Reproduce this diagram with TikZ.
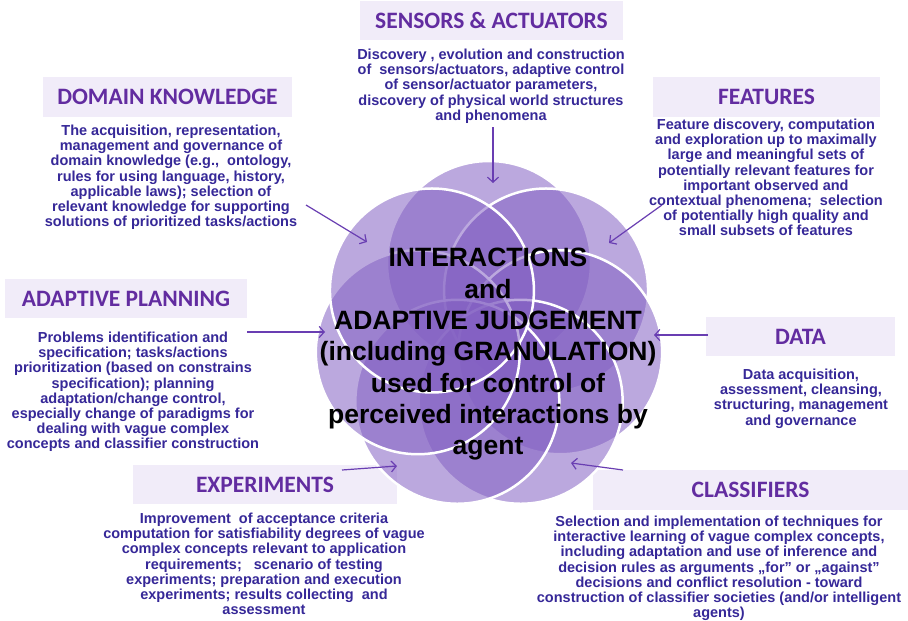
\documentclass[tikz,border=0pt]{standalone}
\usepackage{fontspec}
\setmainfont{Liberation Sans}
\newfontfamily\headfont{Carlito}
\usetikzlibrary{arrows.meta,calc}
\definecolor{petal}{RGB}{132,97,195}
\definecolor{boxc}{RGB}{241,236,249}
\definecolor{headc}{RGB}{98,44,160}
\definecolor{bodyc}{RGB}{54,40,152}
\definecolor{arrowc}{RGB}{105,62,178}
% let lines sit at the given baseline distance even when glyphs crowd
\newcommand\tightlines{\lineskiplimit=-20pt\lineskip=0pt\relax}
\begin{document}
\begin{tikzpicture}[x=1pt,y=-1pt,
  headbox/.style={fill=boxc, inner sep=0pt, text=headc,
    font=\headfont\bfseries\fontsize{23.5}{26}\selectfont},
  body/.style={align=center, inner sep=0pt, anchor=north, text=bodyc,
    font={\bfseries\fontsize{14.5}{15.1}\selectfont\tightlines}},
  petalc/.style={fill=petal, fill opacity=0.55, draw=white, line width=2.5pt},
  link/.style={draw=arrowc, line width=1.2pt, -{Straight Barb[length=5pt,width=11pt]}},
  core/.style={align=center, inner sep=0pt, text=black,
    font={\bfseries\fontsize{26.5}{31.3}\selectfont\tightlines}}
]
\fill[white] (0,0) rectangle (908,621);
\useasboundingbox (0,0) rectangle (908,621);

% heading boxes
\node[headbox, minimum width=263pt, minimum height=39pt] (hsens) at (491.5,20.5) {SENSORS \& ACTUATORS};
\node[headbox, minimum width=249pt, minimum height=40pt] (hdom) at (167.5,97) {DOMAIN KNOWLEDGE};
\node[headbox, minimum width=242pt, minimum height=39pt] (hplan) at (126,298.5) {ADAPTIVE PLANNING};
\node[headbox, minimum width=227pt, minimum height=40pt] (hfeat) at (766.5,97) {FEATURES};
\node[headbox, minimum width=189pt, minimum height=39pt] (hdata) at (800.5,336.5) {DATA};
\node[headbox, minimum width=264pt, minimum height=39pt] (hexp) at (265,484.5) {EXPERIMENTS};
\node[headbox, minimum width=315pt, minimum height=40pt] (hcls) at (750.5,490) {CLASSIFIERS};

% the flower of seven overlapping petals
\coordinate (hub) at (489,336);
\foreach \k in {0,...,6}
  \path[petalc] ($(hub)+({\k*360/7-90}:73)$) circle[radius=102pt];

% central statement
\node[core] (centre) at (488,354.3) {INTERACTIONS\\and\\ADAPTIVE JUDGEMENT\\(including GRANULATION)\\used for control of\\perceived interactions by\\agent};

% descriptions
\node[body] (tsens) at (491,49) {Discovery , evolution and construction\\of\ \ sensors/actuators, adaptive control\\of sensor/actuator parameters,\\discovery of physical world structures\\and phenomena};
\node[body] (tdom) at (171,125) {The acquisition, representation,\\management and governance of\\domain knowledge (e.g.,\ \ ontology,\\rules for using language, history,\\applicable laws); selection of\\relevant knowledge for supporting\\solutions of prioritized tasks/actions};
\node[body] (tfeat) at (766,119) {Feature discovery, computation\\and exploration up to maximally\\large and meaningful sets of\\potentially relevant features for\\important observed and\\contextual phenomena;\ \ selection\\of potentially high quality and\\small subsets of features};
\node[body] (tdata) at (801,369) {Data acquisition,\\assessment, cleansing,\\structuring, management\\and governance};
\node[body] (tplan) at (133,332) {Problems identification and\\specification; tasks/actions\\prioritization (based on constrains\\specification); planning\\adaptation/change control,\\especially change of paradigms for\\dealing with vague complex\\concepts and classifier construction};
\node[body] (texp) at (264,513) {Improvement\ \ of acceptance criteria\\computation for satisfiability degrees of vague\\complex concepts relevant to application\\requirements;\ \ \ scenario of testing\\experiments; preparation and execution\\experiments; results collecting\ \ and\\assessment};
\node[body] (tcls) at (719,516) {Selection and implementation of techniques for\\interactive learning of vague complex concepts,\\including adaptation and use of inference and\\decision rules as arguments „for” or „against"\\decisions and conflict resolution - toward\\construction of classifier societies (and/or intelligent\\agents)};

% arrows towards the petals
\coordinate (asens0) at (493,127);  \coordinate (asens1) at (493,183);
\coordinate (adom0) at (306,205);   \coordinate (adom1) at (367,242);
\coordinate (afeat0) at (662,205);  \coordinate (afeat1) at (609,243);
\coordinate (aplan0) at (247,332);  \coordinate (aplan1) at (325,332);
\coordinate (adata0) at (708,335);  \coordinate (adata1) at (654,335);
\coordinate (acls0) at (623,470);   \coordinate (acls1) at (571,463);
\coordinate (aexp0) at (342,470);   \coordinate (aexp1) at (397,466);
\draw[link] (asens0) -- (asens1);
\draw[link] (adom0) -- (adom1);
\draw[link] (afeat0) -- (afeat1);
\draw[link] (aplan0) -- (aplan1);
\draw[link] (adata0) -- (adata1);
\draw[link] (acls0) -- (acls1);
\draw[link] (aexp0) -- (aexp1);
\end{tikzpicture}
\end{document}
